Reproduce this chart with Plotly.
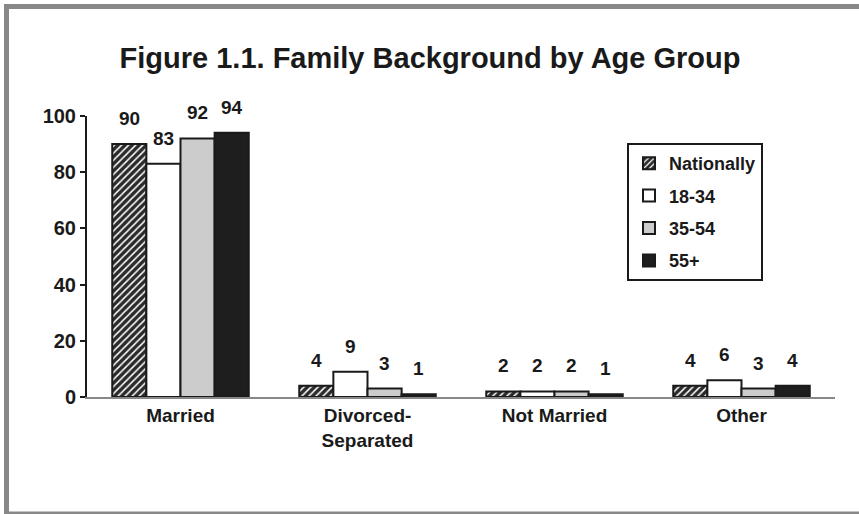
import plotly.graph_objects as go

categories = ["Married", "Divorced-<br>Separated", "Not Married", "Other"]
series_names = ["Nationally", "18-34", "35-54", "55+"]
nationally = [90, 4, 2, 4]
age_18_34 = [83, 9, 2, 6]
age_35_54 = [92, 3, 2, 3]
age_55p = [94, 1, 1, 4]
y_ticks = [0, 20, 40, 60, 80, 100]

values = [nationally, age_18_34, age_35_54, age_55p]
fills = ["#2b2b2b", "#ffffff", "#cccccc", "#1e1e1e"]

FONT = "Liberation Sans, Arial, sans-serif"
TXT = "#1a1a1a"
L, R, T, B = 87, 24, 116, 117
W, H = 859, 514
pw, ph = W - L - R, H - T - B
BARGAP = 0.27
bar_px = pw / len(categories) * (1 - BARGAP) / len(series_names)

fig = go.Figure()
for i, (name, vals) in enumerate(zip(series_names, values)):
    marker = dict(color=fills[i], line=dict(color=TXT, width=2))
    if i == 0:
        marker["pattern"] = dict(shape="/", fgcolor="#ffffff", bgcolor="#2b2b2b",
                                 size=5, solidity=0.3, fillmode="replace")
    fig.add_trace(go.Bar(x=categories, y=vals, name=name, marker=marker,
                         legendgroup=name))
    for c, v in zip(categories, vals):
        fig.add_annotation(x=c, y=v, text=f"<b>{v}</b>", showarrow=False,
                           xshift=(i - 1.5) * bar_px, yshift=13, yanchor="bottom",
                           font=dict(family=FONT, size=19, color=TXT))

def px(x):
    return (x - L) / pw

def py(y):
    return (H - B - y) / ph

frame = dict(color="#888888", width=5)
fig.add_shape(type="line", xref="paper", yref="paper", x0=px(4), x1=px(900),
              y0=py(6.5), y1=py(6.5), line=frame, layer="below")
fig.add_shape(type="line", xref="paper", yref="paper", x0=px(6.5), x1=px(6.5),
              y0=py(4), y1=py(520), line=frame, layer="below")
fig.add_shape(type="line", xref="paper", yref="paper", x0=px(4), x1=px(900),
              y0=py(513), y1=py(513), line=dict(color="#888888", width=3), layer="below")

fig.update_layout(
    width=W, height=H,
    margin=dict(l=L, r=R, t=T, b=B),
    paper_bgcolor="white", plot_bgcolor="white",
    barmode="group", bargap=BARGAP, bargroupgap=0,
    font=dict(family=FONT, size=19, color=TXT),
    title=dict(text="<b>Figure 1.1. Family Background by Age Group</b>",
               x=430 / W, xref="container", xanchor="center",
               y=1 - 58 / H, yanchor="middle",
               font=dict(family=FONT, size=29, color=TXT)),
    legend=dict(x=px(627), y=py(143), xanchor="left", yanchor="top",
                bordercolor=TXT, borderwidth=2, bgcolor="white",
                font=dict(family=FONT, size=18, color=TXT, weight="bold"),
                itemwidth=30, tracegroupgap=6, itemsizing="constant"),
    showlegend=True,
)
fig.update_xaxes(showline=True, linecolor="#888888", linewidth=2, ticks="",
                 tickfont=dict(family=FONT, size=19, color=TXT, weight="bold"),
                 showgrid=False)
fig.update_yaxes(range=[0, 100], tickvals=y_ticks, showline=True, linecolor=TXT,
                 linewidth=2, ticks="outside", ticklen=5, tickwidth=2, tickcolor=TXT,
                 tickfont=dict(family=FONT, size=20, color=TXT, weight="bold"),
                 showgrid=False, zeroline=False)

fig.write_html("out.html", config={"displayModeBar": False},
               post_script="document.body.style.margin='0';document.body.style.overflow='hidden';")
